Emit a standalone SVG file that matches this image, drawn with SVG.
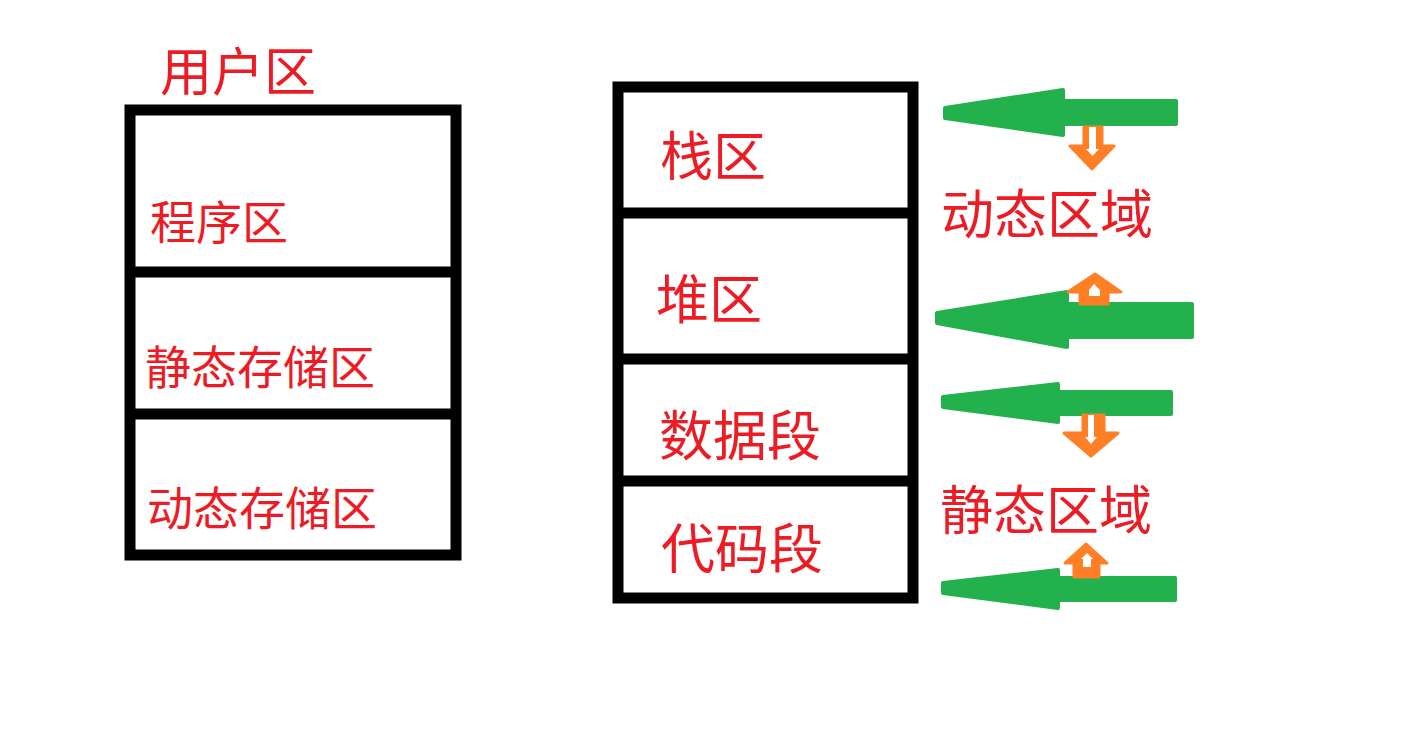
<svg xmlns="http://www.w3.org/2000/svg" width="1420" height="752" viewBox="0 0 1420 752">
<style>
.t{font-family:"Noto Sans CJK SC","Noto Sans CJK JP",sans-serif;fill:#ed1c24}
.box{fill:none;stroke:#000;stroke-width:11}
.div{stroke:#000;stroke-width:11}
.g{fill:#22b14c;stroke:#22b14c;stroke-width:4;stroke-linejoin:round}
.o{fill:#ff7f27;stroke:#ff7f27;stroke-width:3;stroke-linejoin:round}
.w{fill:#fff}
</style>
<rect width="1420" height="752" fill="#fff"/>
<g id="user-area">
<text class="t" x="160" y="91" font-size="52">用户区</text>
<rect class="box" x="130" y="110" width="326" height="445"/>
<line class="div" x1="130" y1="272" x2="456" y2="272"/>
<line class="div" x1="130" y1="414" x2="456" y2="414"/>
</g>
<g id="program-area"><text class="t" x="150" y="239" font-size="46">程序区</text></g>
<g id="static-storage"><text class="t" x="145" y="384" font-size="46">静态存储区</text></g>
<g id="dynamic-storage"><text class="t" x="147" y="525" font-size="46">动态存储区</text></g>
<g id="memory-box">
<rect class="box" x="618" y="87" width="295" height="511"/>
<line class="div" x1="618" y1="213" x2="913" y2="213"/>
<line class="div" x1="618" y1="359" x2="913" y2="359"/>
<line class="div" x1="618" y1="481" x2="913" y2="481"/>
</g>
<g id="stack"><text class="t" x="660" y="176" font-size="53">栈区</text></g>
<g id="heap"><text class="t" x="656" y="319" font-size="53">堆区</text></g>
<g id="data-seg"><text class="t" x="659" y="456" font-size="54">数据段</text></g>
<g id="code-seg"><text class="t" x="661" y="569" font-size="54">代码段</text></g>
<g id="dynamic-region"><text class="t" x="941" y="234" font-size="53">动态区域</text></g>
<g id="static-region"><text class="t" x="940" y="530" font-size="53">静态区域</text></g>
<g id="connectors">
<path class="g" d="M945,108 L1063,90 L1063,101 L1176,101 L1176,124 L1063,124 L1063,135 L945,118 Z"/>
<path class="g" d="M937,313 L1067,292 L1067,304 L1192,304 L1192,337 L1067,337 L1067,347 L937,323 Z"/>
<path class="g" d="M943,397 L1058,384 L1058,392 L1171,392 L1171,414 L1058,414 L1058,422 L943,407 Z"/>
<path class="g" d="M943,583 L1058,570 L1058,578 L1175,578 L1175,600 L1058,600 L1058,608 L943,593 Z"/>
<path class="o" d="M1084,127 L1102,127 L1102,146 L1114,146 L1092,169 L1070,146 L1084,146 Z"/>
<path class="w" d="M1089,127 L1096,127 L1096,149 L1099,149 L1092.5,156 L1086,149 L1089,149 Z"/>
<path class="o" d="M1095,274 L1121,292 L1108,292 L1108,304 L1080,304 L1080,292 L1068,292 Z"/>
<path class="w" d="M1094,284 L1100,290 L1100,296 L1089,296 L1089,290 Z"/>
<path class="o" d="M1083,415 L1104,415 L1104,433 L1118,433 L1091,456 L1064,433 L1083,433 Z"/>
<path class="w" d="M1088,415 L1094,415 L1094,437 L1097,437 L1091,444 L1085,437 L1088,437 Z"/>
<path class="o" d="M1086,544 L1107,563 L1099,563 L1099,577 L1074,577 L1074,563 L1065,563 Z"/>
<path class="w" d="M1087,553 L1093,559 L1091,559 L1091,567 L1083,567 L1083,559 L1081,559 Z"/>
</g>
</svg>
